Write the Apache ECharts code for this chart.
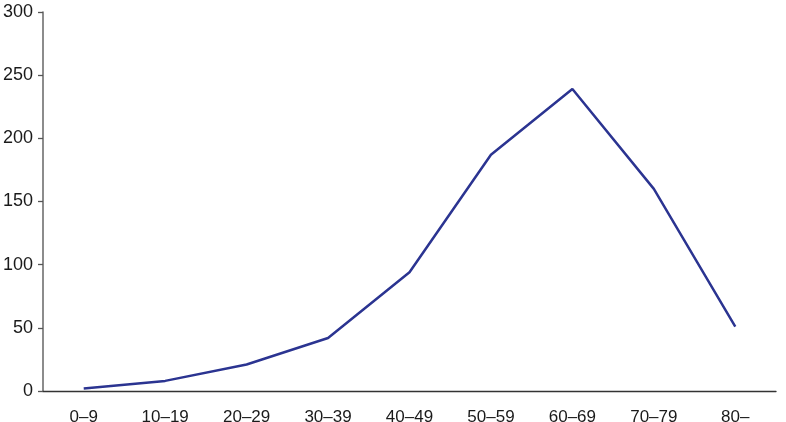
<!DOCTYPE html>
<html>
<head>
<meta charset="utf-8">
<script src="https://cdn.jsdelivr.net/npm/echarts@6/dist/echarts.min.js"></script>
<style>
  html, body { margin: 0; padding: 0; background: #fff; }
  #chart { width: 786px; height: 422px; }
</style>
</head>
<body>
<div id="chart"></div>
<script>
  // age groups and counts
  const ageGroups = ['0–9', '10–19', '20–29', '30–39', '40–49', '50–59', '60–69', '70–79', '80–'];
  const counts = [2, 8, 21, 42, 94, 187, 239, 160, 51];
  const yTicks = [0, 50, 100, 150, 200, 250, 300];

  const chart = echarts.init(document.getElementById('chart'));
  const font = '"Liberation Sans", Arial, sans-serif';

  chart.setOption({
    animation: false,
    grid: { left: 43, right: 10, top: 12, bottom: 31, outerBoundsMode: 'none', containLabel: false },
    xAxis: {
      type: 'category',
      data: ageGroups,
      boundaryGap: true,
      axisLine: { lineStyle: { color: '#333', width: 1.3 } },
      axisTick: { alignWithLabel: true, length: 5, lineStyle: { color: '#333', width: 1.3 } },
      axisLabel: { color: '#1a1a1a', fontSize: 17, fontFamily: font, margin: 18 },
      splitLine: { show: false }
    },
    yAxis: {
      type: 'value',
      min: yTicks[0],
      max: yTicks[yTicks.length - 1],
      interval: 50,
      axisLine: { show: true, lineStyle: { color: '#666', width: 1.5 } },
      axisTick: { show: true, length: 5, lineStyle: { color: '#555', width: 1.3 } },
      axisLabel: { color: '#1a1a1a', fontSize: 18, fontFamily: font, margin: 10 },
      splitLine: { show: false }
    },
    series: [
      {
        type: 'line',
        data: counts,
        showSymbol: false,
        smooth: false,
        lineStyle: { color: '#2b3491', width: 2.5 }
      }
    ]
  });
</script>
</body>
</html>
